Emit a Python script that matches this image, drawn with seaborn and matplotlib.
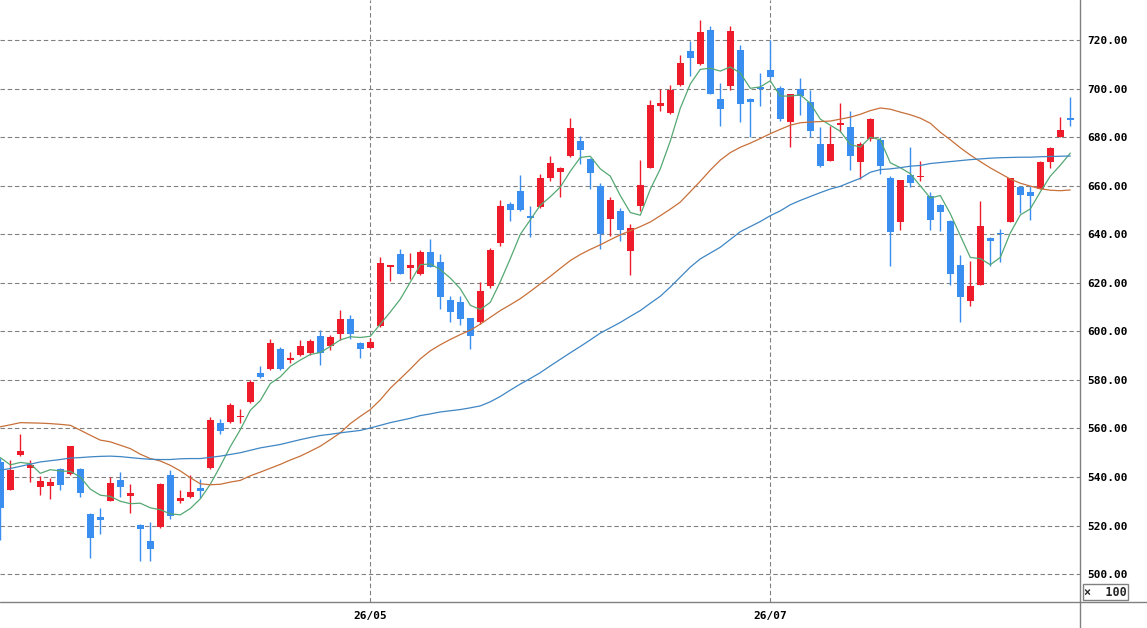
import numpy as np
import pandas as pd
import matplotlib
matplotlib.use("Agg")
import matplotlib.pyplot as plt
import seaborn as sns
from matplotlib.lines import Line2D

# daily candles (price / 100)
opens = [546.2, 534.8, 549.1, 543.9, 535.9, 536.1, 543.2, 541.1, 543.2, 524.8,
         523.7, 530.1, 538.6, 532.1, 520.4, 513.8, 519.3, 540.7, 530.1, 531.7,
         535.6, 543.7, 562.1, 562.8, 564.6, 571.1, 582.7, 584.5, 592.7, 588.4,
         590.2, 591.2, 598.0, 593.9, 599.1, 605.3, 595.3, 593.3, 602.1, 626.4,
         632.1, 626.0, 623.8, 632.7, 628.6, 612.9, 612.3, 605.5, 603.7, 618.8,
         636.3, 652.7, 658.0, 647.7, 651.1, 663.4, 665.9, 672.1, 678.5, 671.2,
         660.0, 646.3, 649.7, 633.0, 651.5, 667.5, 692.9, 689.9, 701.4, 715.5,
         710.4, 724.1, 696.0, 701.1, 715.9, 696.0, 700.8, 707.7, 700.4, 686.5,
         700.0, 694.5, 677.3, 670.4, 684.9, 684.2, 669.7, 679.4, 679.0, 663.3,
         645.3, 664.5, 663.8, 656.0, 651.9, 645.7, 627.4, 612.4, 619.3, 638.5,
         640.4, 645.3, 659.4, 657.6, 658.7, 669.7, 680.3, 688.0]
highs = [548.0, 547.2, 557.7, 547.2, 540.3, 539.7, 543.9, 552.9, 543.9, 525.0,
         527.2, 540.0, 541.9, 537.2, 520.6, 521.4, 537.4, 542.8, 534.5, 540.7,
         539.3, 564.6, 564.1, 570.3, 567.9, 580.0, 585.8, 597.0, 593.6, 591.6,
         596.3, 597.0, 600.4, 598.4, 609.0, 606.6, 595.7, 597.4, 630.7, 627.5,
         633.8, 632.2, 633.4, 637.9, 632.1, 614.7, 614.7, 605.7, 620.4, 634.5,
         654.2, 653.4, 664.5, 651.8, 664.8, 672.3, 667.7, 688.1, 680.5, 671.6,
         661.1, 655.2, 650.7, 644.1, 670.7, 695.5, 700.0, 701.4, 713.8, 719.6,
         728.5, 726.0, 702.5, 725.8, 717.9, 696.2, 706.6, 720.0, 701.1, 697.9,
         704.5, 699.3, 684.2, 684.6, 694.2, 690.8, 678.0, 687.9, 680.3, 664.2,
         662.6, 675.9, 670.4, 657.6, 652.5, 645.9, 631.5, 629.2, 653.9, 638.8,
         642.2, 663.3, 660.1, 660.1, 670.4, 676.2, 688.3, 696.6]
lows = [514.0, 534.5, 548.5, 537.9, 532.4, 531.0, 534.5, 541.0, 531.7, 506.5,
        516.3, 530.0, 531.7, 525.2, 505.5, 505.5, 519.1, 522.8, 529.2, 531.4,
        531.4, 543.5, 557.9, 562.3, 562.3, 570.4, 580.7, 584.1, 584.3, 587.1,
        589.8, 590.2, 586.1, 592.5, 596.6, 597.0, 589.1, 593.1, 601.9, 620.9,
        623.6, 621.5, 623.3, 626.4, 609.2, 603.7, 602.7, 592.7, 603.0, 618.1,
        635.3, 645.6, 649.8, 638.8, 650.9, 662.1, 655.2, 671.9, 668.9, 658.6,
        634.0, 639.5, 637.4, 623.3, 649.7, 667.3, 690.8, 689.7, 701.2, 705.2,
        710.0, 697.8, 684.7, 699.7, 686.3, 680.1, 692.9, 704.6, 686.7, 675.9,
        689.3, 680.1, 667.8, 670.2, 682.1, 666.6, 662.9, 678.4, 664.9, 626.8,
        642.0, 659.4, 662.2, 641.8, 641.3, 619.1, 604.0, 610.3, 619.1, 627.1,
        628.5, 645.1, 648.8, 646.1, 658.5, 667.3, 680.1, 684.6]
closes = [527.2, 543.0, 550.8, 544.8, 538.2, 537.9, 536.6, 552.7, 533.4, 514.8,
          522.1, 537.7, 535.9, 533.5, 518.5, 510.3, 537.2, 524.1, 531.2, 533.9,
          534.2, 563.4, 559.0, 569.7, 565.2, 579.0, 581.3, 595.4, 584.5, 589.1,
          593.9, 595.9, 591.3, 597.7, 605.3, 599.1, 592.9, 595.7, 628.4, 627.3,
          623.8, 627.4, 632.9, 626.6, 614.0, 607.8, 605.3, 598.0, 616.7, 633.6,
          651.8, 650.0, 650.0, 646.6, 663.4, 669.6, 667.5, 684.0, 674.7, 665.5,
          640.1, 654.2, 641.8, 642.5, 660.4, 693.3, 694.2, 699.3, 710.7, 712.5,
          723.4, 698.0, 691.5, 723.7, 693.8, 694.5, 700.1, 704.8, 687.4, 697.7,
          697.2, 682.5, 668.0, 677.3, 685.8, 672.2, 677.3, 687.6, 668.0, 641.1,
          662.4, 661.1, 664.2, 645.9, 649.1, 623.7, 614.0, 618.8, 643.6, 637.4,
          640.0, 663.1, 656.4, 656.0, 670.0, 675.5, 683.2, 687.3]

# moving averages
ma_short = [548.0, 545.0, 546.0, 545.5, 541.5, 543.0, 542.5, 542.3, 540.0, 535.0,
            532.5, 532.0, 530.0, 529.0, 529.2, 527.3, 526.5, 524.8, 524.4, 527.0,
            531.0, 537.0, 544.5, 552.5, 559.5, 567.5, 571.5, 578.5, 581.3, 585.6,
            588.2, 590.5, 591.3, 593.8, 596.5, 597.8, 597.5, 598.0, 603.0, 608.0,
            613.3, 620.3, 627.5, 627.8, 625.5, 622.0, 617.6, 610.8, 609.0, 612.0,
            620.5, 630.0, 640.0, 646.0, 652.0, 655.5, 659.5, 666.0, 671.7, 672.2,
            667.0, 664.0, 656.0, 649.0, 647.9, 658.6, 667.0, 678.5, 692.0, 702.0,
            708.0, 708.5, 707.3, 709.0, 706.5, 700.2, 700.8, 703.3, 697.0, 697.0,
            697.5, 694.0, 687.5, 685.0, 682.5, 677.0, 676.0, 680.0, 679.0, 669.5,
            667.5, 665.0, 660.0, 655.0, 656.0, 648.5, 639.5, 630.5, 630.0, 627.5,
            630.5, 640.6, 648.0, 650.5, 657.5, 664.0, 668.5, 673.5]
ma_mid = [560.7, 561.5, 562.4, 562.3, 562.2, 562.0, 561.7, 561.3, 559.3, 557.2,
          555.2, 554.5, 553.1, 551.7, 549.4, 547.6, 546.6, 544.8, 542.5, 539.7,
          537.2, 536.8, 537.0, 537.9, 538.6, 540.5, 542.0, 543.6, 545.2, 547.0,
          548.6, 550.6, 552.7, 555.4, 558.2, 562.0, 565.0, 567.8, 571.8, 576.6,
          580.5, 584.5, 588.7, 592.0, 594.5, 596.7, 598.7, 600.5, 603.0, 605.8,
          608.6, 611.0, 613.5, 616.5, 619.6, 622.7, 626.0, 629.2, 631.7, 633.8,
          635.7, 637.8, 639.8, 641.5, 643.2, 645.1, 647.7, 650.4, 653.3, 657.6,
          661.9, 666.5, 670.6, 673.7, 675.9, 677.6, 679.5, 681.5, 683.3, 685.0,
          686.0, 686.3, 686.5, 686.7, 687.5, 688.3, 689.5, 691.0, 692.1, 691.6,
          690.4, 689.3, 687.9, 685.8, 682.1, 679.0, 675.7, 672.7, 670.0, 667.4,
          665.1, 662.8, 661.1, 659.9, 658.8, 658.2, 658.0, 658.3]
ma_long = [542.8, 543.5, 544.4, 545.3, 546.2, 546.7, 547.2, 547.8, 548.0, 548.3,
           548.5, 548.6, 548.4, 548.0, 547.6, 547.3, 547.2, 547.2, 547.5, 547.6,
           547.6, 548.1, 548.6, 549.3, 550.0, 551.0, 552.0, 552.7, 553.4, 554.4,
           555.4, 556.3, 557.1, 557.6, 558.2, 558.7, 559.2, 560.2, 561.3, 562.4,
           563.3, 564.2, 565.3, 566.0, 566.8, 567.3, 567.8, 568.5, 569.3, 571.0,
           573.2, 575.8, 578.3, 580.6, 583.0, 585.8, 588.5, 591.2, 593.8, 596.5,
           599.3, 601.5, 603.7, 606.2, 608.6, 611.6, 614.5, 618.3, 622.4, 626.5,
           629.9, 632.3, 634.7, 637.9, 641.1, 643.2, 645.3, 647.7, 649.7, 652.2,
           654.0, 655.6, 657.2, 658.7, 659.8, 661.5, 663.1, 665.6, 666.7, 667.0,
           667.5, 668.1, 668.4, 669.2, 669.6, 670.0, 670.4, 670.8, 671.1, 671.4,
           671.6, 671.7, 671.8, 671.8, 672.0, 672.1, 672.2, 672.3]

price_ticks = [500, 520, 540, 560, 580, 600, 620, 640, 660, 680, 700, 720]
date_pos = [37, 77]
date_labels = ["26/05", "26/07"]

UP = "#ee1c2a"
DOWN = "#3a8ef0"
GRID = "#808080"

df = pd.DataFrame({"open": opens, "high": highs, "low": lows, "close": closes,
                   "short": ma_short, "mid": ma_mid, "long": ma_long})
df["idx"] = np.arange(len(df))
df["up"] = df["close"] >= df["open"]
df["color"] = np.where(df["up"], UP, DOWN)
df["body_lo"] = df[["open", "close"]].min(axis=1)
df["body_h"] = (df["close"] - df["open"]).abs().clip(lower=0.45)

sns.set_style("white")
plt.rcParams['font.family'] = ['DejaVu Sans Mono', 'DejaVu Sans']

W, H = 1147, 628
fig = plt.figure(figsize=(W / 100, H / 100), dpi=100)
bottom_px = 601.7
right_px = 1080
ax = fig.add_axes([0, 1 - bottom_px / H, right_px / W, bottom_px / H])

# grid
dash = (0, (4, 2.5))
for p in price_ticks:
    ax.axhline(p, color=GRID, lw=0.8, ls=dash, zorder=1)
for d in date_pos:
    ax.axvline(d, color=GRID, lw=0.8, ls=dash, zorder=1)

# candles
ax.vlines(df["idx"], df["low"], df["high"], colors=df["color"], lw=1.0, zorder=2)
ax.bar(df["idx"], df["body_h"], bottom=df["body_lo"], width=0.7,
       color=df["color"], linewidth=0, zorder=3)

# moving averages
sns.lineplot(data=df, x="idx", y="short", color="#55a873", lw=0.9, ax=ax, zorder=4)
sns.lineplot(data=df, x="idx", y="mid", color="#c8703a", lw=0.9, ax=ax, zorder=4)
sns.lineplot(data=df, x="idx", y="long", color="#3f86c4", lw=0.9, ax=ax, zorder=4)

ax.set_xlim(-0.03, 107.97)
ax.set_ylim(488.6, 736.6)

ax.yaxis.tick_right()
ax.set_yticks(price_ticks)
ax.set_yticklabels([f"{p:.2f}" for p in price_ticks])
ax.set_xticks(date_pos)
ax.set_xticklabels(date_labels)
ax.tick_params(axis="y", length=0, pad=5.5, labelsize=8, labelcolor="black")
ax.tick_params(axis="x", length=0, pad=7, labelsize=8, labelcolor="black")
for lab in ax.get_xticklabels() + ax.get_yticklabels():
    lab.set_fontweight("bold")
ax.set_xlabel("")
ax.set_ylabel("")
for s in ax.spines.values():
    s.set_visible(False)

# frame lines running past the plot area
fig.add_artist(Line2D([0, 1], [1 - bottom_px / H] * 2, color=GRID, lw=1,
                      transform=fig.transFigure))
fig.add_artist(Line2D([right_px / W] * 2, [0, 1], color=GRID, lw=1,
                      transform=fig.transFigure))

fig.text(1105.5 / W, 1 - 592.3 / H, "×  100", ha="center", va="center",
         fontsize=8.5, fontweight="bold",
         bbox=dict(boxstyle="square,pad=0.12", fc="white", ec=GRID, lw=1))

fig.savefig("out.png", dpi=100)
